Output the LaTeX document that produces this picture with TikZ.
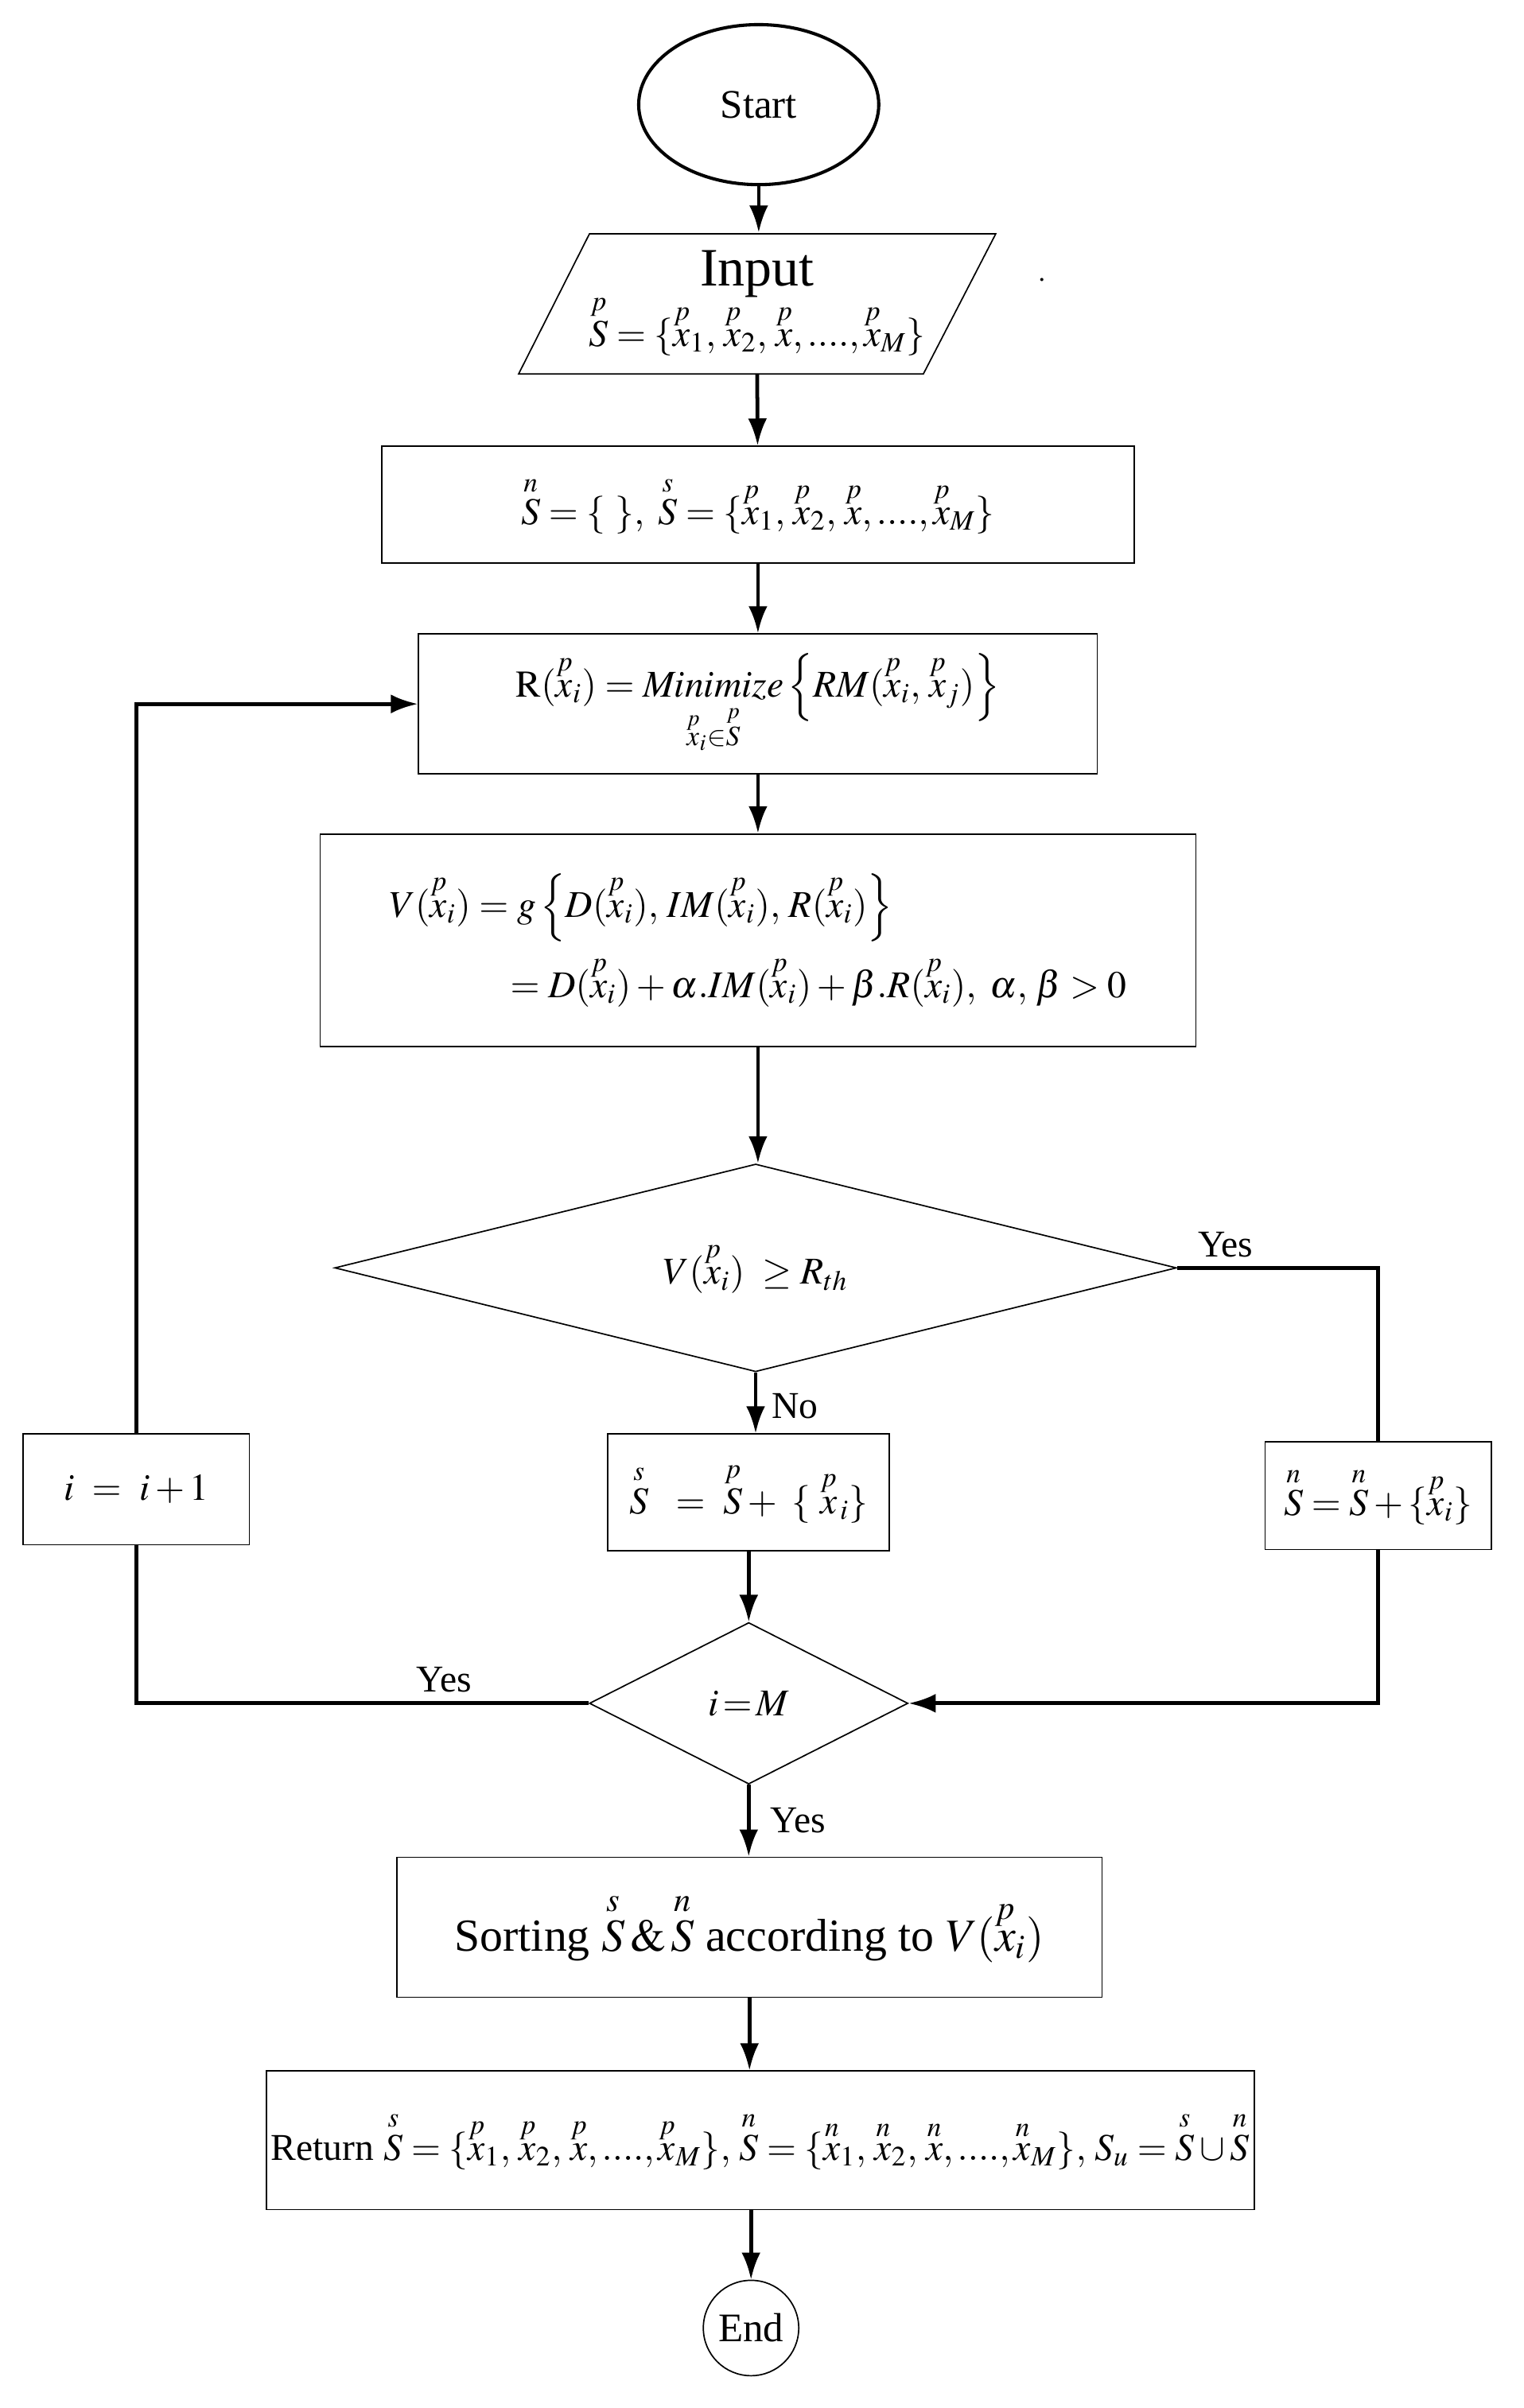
\documentclass[tikz,border=0pt]{standalone}
\usepackage{amsmath}
\usepackage{mathptmx}
\usepackage{fontspec}
\setmainfont{Liberation Serif}
\usetikzlibrary{positioning,shapes.geometric,arrows.meta}
\newcommand{\ov}[2]{\overset{#1}{#2}}
\begin{document}
\begin{tikzpicture}[x=0.02cm,y=-0.02cm,
    box/.style={draw,line width=0.5pt,inner sep=0pt,font=\fontsize{14}{17}\selectfont},
    flow/.style={line width=1.4pt,-{Latex[length=10pt,width=7pt]}},
    line/.style={line width=1.4pt},
    every label/.style={font=\fontsize{14}{17}\selectfont}]
  \useasboundingbox (0,0) rectangle (990,1565);

  \node (start) [box,ellipse,line width=1.2pt,minimum width=156*0.02cm,minimum height=104*0.02cm] at (493,68) {\fontsize{15}{18}\selectfont Start};
  \draw [line width=0.5pt] (383,152) -- (647,152) -- (600,243) -- (337,243) -- cycle;
  \node (input) [inner sep=0pt,minimum width=263*0.02cm,minimum height=91*0.02cm,align=center] at (492,197)
    {{\fontsize{20}{24}\selectfont Input}\\[-2pt] \fontsize{14}{17}\selectfont $\ov{p}{S}=\{\ov{p}{x}_1,\,\ov{p}{x}_2,\,\ov{p}{x},....,\ov{p}{x}_M\}$};
  \node (dot) at (677,182) {.};
  \node (init) [box,minimum width=489*0.02cm,minimum height=76*0.02cm] at (492.5,328)
    {$\ov{n}{S}=\{\ \},\ \ov{s}{S}=\{\ov{p}{x}_1,\,\ov{p}{x}_2,\,\ov{p}{x},....,\ov{p}{x}_M\}$};
  \node (rank) [box,minimum width=441*0.02cm,minimum height=91*0.02cm] at (492.5,457.5)
    {$\mathrm{R}(\ov{p}{x}_i)=\mathop{\mathit{Minimize}}\limits_{\ov{p}{x}_i\in\ov{p}{S}}\left\{RM(\ov{p}{x}_i,\,\ov{p}{x}_j)\right\}$};
  \node (value) [box,minimum width=569*0.02cm,minimum height=138*0.02cm,align=left] at (492.5,611)
    {$V(\ov{p}{x}_i)=g\left\{D(\ov{p}{x}_i),\,IM(\ov{p}{x}_i),\,R(\ov{p}{x}_i)\right\}$\\[4pt]
     \hspace{3.2em}$=D(\ov{p}{x}_i)+\alpha.IM(\ov{p}{x}_i)+\beta.R(\ov{p}{x}_i),\ \alpha,\,\beta>0$};
  \node (check) [box,diamond,aspect=4.05,minimum width=547*0.02cm,minimum height=135*0.02cm] at (491,824)
    {$V(\ov{p}{x}_i)\ \geq R_{th}$};
  \node (incr) [box,minimum width=147*0.02cm,minimum height=72*0.02cm] at (88.5,968) {$i\ =\ i+1$};
  \node (keep) [box,minimum width=183*0.02cm,minimum height=76*0.02cm] at (486.5,970)
    {$\ov{s}{S}\ \ =\ \ov{p}{S}+\ \{\ \ov{p}{x}_{\,i}\}$};
  \node (drop) [box,minimum width=147*0.02cm,minimum height=70*0.02cm] at (895.5,972)
    {$\ov{n}{S}=\ov{n}{S}+\{\ov{p}{x}_i\}$};
  \node (last) [box,diamond,aspect=1.97,minimum width=207*0.02cm,minimum height=105*0.02cm] at (486.5,1107) {$i\!=\!M$};
  \node (sort) [box,minimum width=458*0.02cm,minimum height=91*0.02cm,font=\fontsize{17}{20}\selectfont] at (487,1252.5)
    {Sorting $\ov{s}{S}\,\&\,\ov{n}{S}$ according to $V(\ov{p}{x}_i)$};
  \node (result) [box,minimum width=642*0.02cm,minimum height=90*0.02cm] at (494,1391)
    {Return $\ov{s}{S}=\{\ov{p}{x}_1,\,\ov{p}{x}_2,\,\ov{p}{x},....,\ov{p}{x}_M\},\,\ov{n}{S}=\{\ov{n}{x}_1,\,\ov{n}{x}_2,\,\ov{n}{x},....,\ov{n}{x}_M\},\,S_u=\ov{s}{S}\cup\ov{n}{S}$};
  \node (stop) [box,circle,minimum size=62*0.02cm] at (488,1513) {\fontsize{15}{18}\selectfont End};

  \draw [flow] (start) -- (start |- input.north);
  \draw [flow] (input.south) -- (init);
  \draw [flow] (init) -- (init |- rank.north);
  \draw [flow] (rank) -- (rank |- value.north);
  \draw [flow] (value) -- (value |- check.north);
  \draw [flow] (check) -- (check |- keep.north) node [pos=0.55,right=2pt,font=\fontsize{14}{17}\selectfont] {No};
  \draw [flow] (keep) -- (last);
  \draw [line] (check.east) -- (drop.north |- check.east) node [pos=0.24,above=0pt,font=\fontsize{14}{17}\selectfont] {Yes} -- (drop.north);
  \draw [flow] (drop.south) |- (last.east);
  \draw [line] (last.west) -| (incr.south) node [pos=0.16,above=0pt,font=\fontsize{14}{17}\selectfont] {Yes};
  \draw [flow] (incr.north) |- (rank.west);
  \draw [flow] (last) -- (last |- sort.north) node [pos=0.5,right=4pt,font=\fontsize{14}{17}\selectfont] {Yes};
  \draw [flow] (sort) -- (sort |- result.north);
  \draw [flow] (result.south -| stop) -- (stop);
\end{tikzpicture}
\end{document}
